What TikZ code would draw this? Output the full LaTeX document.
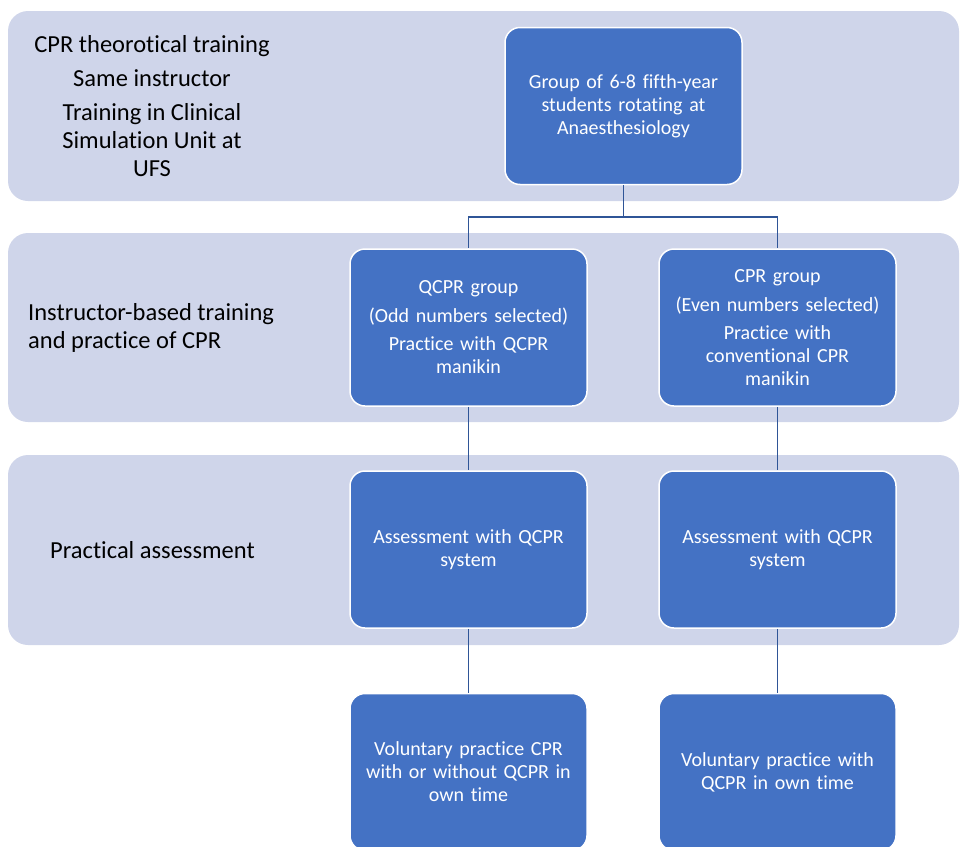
\documentclass[tikz,border=0pt]{standalone}
\usepackage{fontspec}
\setmainfont{Carlito}[Ligatures=NoCommon]
\definecolor{bandfill}{HTML}{CFD5EA}
\definecolor{boxfill}{HTML}{4472C4}
\definecolor{linecol}{HTML}{2F5597}
\begin{document}
\begin{tikzpicture}[x=1pt,y=-1pt,
  band/.style={fill=bandfill, rounded corners=20pt},
  stepbox/.style={draw=white, line width=1.5pt, fill=boxfill, rounded corners=15pt,
    minimum width=237pt, minimum height=157pt, text width=230pt, align=center,
    text=white, font=\fontsize{20}{23}\selectfont, inner sep=0pt},
  lbl/.style={text=black, font=\fontsize{24.5}{28}\selectfont, inner sep=0pt},
  conn/.style={draw=linecol, line width=1.6pt}]
\useasboundingbox (0,0) rectangle (960,846);
% bands
\fill[band] (8,11) rectangle (959,201);
\fill[band] (8,233) rectangle (959,422);
\fill[band] (8,455) rectangle (959,645);
% left labels
\node[lbl, align=center] (l1) at (152,106) {CPR theorotical training\\[6pt]Same instructor\\[6pt]Training in Clinical\\Simulation Unit at\\UFS};
\node[lbl, align=left, anchor=west] (l2) at (28,328) {Instructor-based training\\and practice of CPR};
\node[lbl, anchor=west] (l3) at (50,550) {Practical assessment};
% boxes
\node[stepbox] (top) at (623.5,106) {Group of 6-8 fifth-year\\students rotating at\\Anaesthesiology};
\node[stepbox] (qcpr) at (468.5,327.5) {QCPR group\\[6pt](Odd numbers selected)\\[5pt]Practice with QCPR\\manikin};
\node[stepbox] (cpr) at (777.5,327.5) {CPR group\\[6pt](Even numbers selected)\\[5pt]Practice with\\conventional CPR\\manikin};
\node[stepbox] (assq) at (468.5,549.5) {Assessment with QCPR\\system};
\node[stepbox] (assc) at (777.5,549.5) {Assessment with QCPR\\system};
\node[stepbox] (volq) at (468.5,772) {Voluntary practice CPR\\with or without QCPR in\\own time};
\node[stepbox] (volc) at (777.5,772) {Voluntary practice with\\QCPR in own time};
% connectors
\draw[conn] (top.south) -- ++(0,32) -| (qcpr.north);
\draw[conn] (top.south) -- ++(0,32) -| (cpr.north);
\draw[conn] (qcpr.south) -- (assq.north);
\draw[conn] (cpr.south) -- (assc.north);
\draw[conn] (assq.south) -- (volq.north);
\draw[conn] (assc.south) -- (volc.north);
\end{tikzpicture}
\end{document}
